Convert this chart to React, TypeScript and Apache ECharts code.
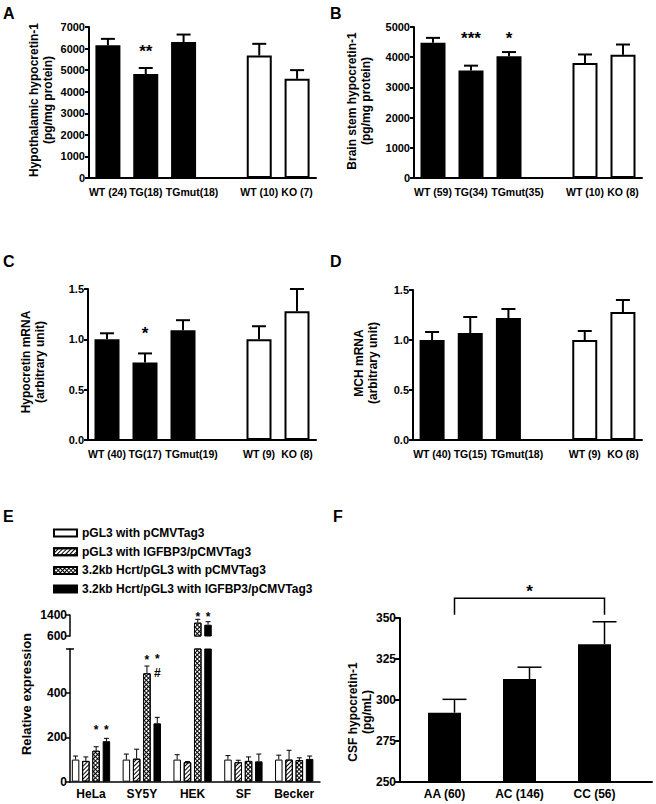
import React, { useEffect, useRef } from 'react';
import * as echarts from 'echarts';

const FONT = '"Liberation Sans", Arial, Helvetica, sans-serif';

// ---------- Panels A-D (mouse data) ----------
const genotype = ['TG', 'TG', 'TG', '', 'KO', 'KO'];

const catsA = ['WT (24)', 'TG(18)', 'TGmut(18)', '', 'WT (10)', 'KO (7)'];
const meanA = [6150, 4820, 6300, null, 5680, 4600];
const semA = [300, 280, 350, null, 540, 400];
const sigA = ['', '**', '', '', '', ''];

const catsB = ['WT (59)', 'TG(34)', 'TGmut(35)', '', 'WT (10)', 'KO (8)'];
const meanB = [4480, 3560, 4030, null, 3810, 4080];
const semB = [160, 160, 140, null, 280, 340];
const sigB = ['', '***', '*', '', '', ''];

const catsC = ['WT (40)', 'TG(17)', 'TGmut(19)', '', 'WT (9)', 'KO (8)'];
const meanC = [1.0, 0.77, 1.09, null, 1.0, 1.28];
const semC = [0.06, 0.09, 0.1, null, 0.13, 0.22];
const sigC = ['', '*', '', '', '', ''];

const catsD = ['WT (40)', 'TG(15)', 'TGmut(18)', '', 'WT (9)', 'KO (8)'];
const meanD = [1.0, 1.07, 1.22, null, 1.0, 1.28];
const semD = [0.08, 0.16, 0.09, null, 0.09, 0.12];
const sigD = ['', '', '', '', '', ''];

const yTicksA = [0, 7000, 1000];
const yTicksB = [0, 5000, 1000];
const yTicksCD = [0, 1.5, 0.5];

// ---------- Panel E (cell lines) ----------
const cellLines = ['HeLa', 'SY5Y', 'HEK', 'SF', 'Becker'];
const eNames = [
  'pGL3 with pCMVTag3',
  'pGL3 with IGFBP3/pCMVTag3',
  '3.2kb Hcrt/pGL3 with pCMVTag3',
  '3.2kb Hcrt/pGL3 with IGFBP3/pCMVTag3',
];
const eMean1 = [100, 100, 100, 100, 100];
const eSem1 = [16, 25, 22, 18, 20];
const eMean2 = [94, 104, 88, 88, 100];
const eSem2 = [18, 43, 3, 9, 42];
const eMean3 = [140, 490, 1107, 94, 98];
const eSem3 = [18, 33, 129, 18, 10];
const eMean4 = [183, 264, 1030, 92, 103];
const eSem4 = [13, 27, 115, 33, 13];
const eSig3 = ['*', '*', '*', '', ''];
const eSig4 = ['*', '*\n#', '*', '', ''];
const eSig3Level = [247, 562, 1440, 0, 0];
const eSig4Level = [247, 538, 1440, 0, 0];
const eLowerTicks = [0, 600, 200];
const eUpperTicks = [600, 1400, 800];

// ---------- Panel F (human CSF) ----------
const fCats = ['AA (60)', 'AC (146)', 'CC (56)'];
const fMean = [292.3, 312.8, 334.0];
const fSem = [8.1, 7.2, 13.7];
const fTicks = [250, 350, 25];
const fBracket = { from: 0, to: 2, low: 352, high: 362, star: 368.3, text: '*' };

const bold = (size: number) => ({ fontFamily: FONT, fontWeight: 'bold' as const, fontSize: size, color: '#000' });

function errSeries(xi: number, yi: number, data: any[], offset: number, cap: number, lw: number) {
  return {
    type: 'custom', xAxisIndex: xi, yAxisIndex: yi, clip: false, silent: true, z: 5,
    encode: { x: 0, y: 1 },
    data,
    renderItem: (params: any, api: any) => {
      const c = api.value(0), m = api.value(1), s = api.value(2);
      const b = api.coord([c, m]);
      const t = api.coord([c, m + s]);
      const x = b[0] + offset;
      const st = { stroke: '#000', lineWidth: lw };
      return {
        type: 'group',
        children: [
          { type: 'line', shape: { x1: x, y1: b[1], x2: x, y2: t[1] }, style: st },
          { type: 'line', shape: { x1: x - cap / 2, y1: t[1], x2: x + cap / 2, y2: t[1] }, style: st },
        ],
      };
    },
  };
}

function starSeries(xi: number, yi: number, items: { c: number; level: number; t: string }[], offset: number, size: number, dy: number, lh?: number) {
  return {
    type: 'custom', xAxisIndex: xi, yAxisIndex: yi, clip: false, silent: true, z: 6,
    encode: { x: 0, y: 1 },
    data: items.map((d) => [d.c, d.level]),
    renderItem: (params: any, api: any) => {
      const p = api.coord([api.value(0), api.value(1)]);
      return {
        type: 'text', x: p[0] + offset, y: p[1] + dy,
        style: { text: items[params.dataIndex].t, fill: '#000', font: `bold ${size}px ${FONT}`, align: 'center', verticalAlign: 'middle', lineHeight: lh || size },
      };
    },
  };
}

export default function App() {
  const ref = useRef<HTMLDivElement>(null);
  useEffect(() => {
    if (!ref.current) return;
    const chart = echarts.init(ref.current, null, { renderer: 'svg' });

    const grids: any[] = [];
    const xAxes: any[] = [];
    const yAxes: any[] = [];
    const series: any[] = [];
    const graphic: any[] = [];

    // ---- A-D ----
    const panels = [
      { cats: catsA, mean: meanA, sem: semA, sig: sigA, ticks: yTicksA, dec: 0, star: 6065, g: { left: 89, top: 27, width: 227, height: 151 } },
      { cats: catsB, mean: meanB, sem: semB, sig: sigB, ticks: yTicksB, dec: 0, star: 4745, g: { left: 414, top: 27, width: 228, height: 151 } },
      { cats: catsC, mean: meanC, sem: semC, sig: sigC, ticks: yTicksCD, dec: 1, star: 1.095, g: { left: 88, top: 289, width: 228, height: 151 } },
      { cats: catsD, mean: meanD, sem: semD, sig: sigD, ticks: yTicksCD, dec: 1, star: 1.1, g: { left: 413, top: 290, width: 229, height: 150 } },
    ];
    panels.forEach((p, i) => {
      grids.push(p.g);
      xAxes.push({
        type: 'category', gridIndex: i, data: p.cats,
        axisLine: { lineStyle: { color: '#000', width: 2 } },
        axisTick: { show: false },
        axisLabel: {
          ...bold(10.5), interval: 0, margin: 8,
          formatter: (v: string) => (v.indexOf('TGmut') === 0 ? `{s|${v}}` : v),
          rich: { s: { ...bold(10.5), padding: [0, 0, 0, 17] } },
        },
      });
      yAxes.push({
        type: 'value', gridIndex: i, min: p.ticks[0], max: p.ticks[1], interval: p.ticks[2],
        axisLine: { show: true, lineStyle: { color: '#000', width: 2 } },
        axisTick: { show: true, length: 4, lineStyle: { color: '#000', width: 2 } },
        splitLine: { show: false },
        axisLabel: { ...bold(11), margin: 4, formatter: (v: number) => v.toFixed(p.dec) },
      });
      series.push({
        type: 'bar', xAxisIndex: i, yAxisIndex: i, barWidth: 25,
        data: p.mean.map((v, k) =>
          v == null ? '-' : { value: v, itemStyle: { color: genotype[k] === 'TG' ? '#000' : '#fff', borderColor: '#000', borderWidth: 2 } }
        ),
      });
      const ed = p.mean.map((v, k) => (v == null ? null : [k, v, p.sem[k]])).filter(Boolean);
      series.push(errSeries(i, i, ed, 0, 14, 2));
      const st = p.sig.map((t, k) => ({ c: k, level: p.star, t })).filter((d) => d.t);
      if (st.length) series.push(starSeries(i, i, st, 0, 17, 4));
    });

    // ---- E ----
    const eMeans = [eMean1, eMean2, eMean3, eMean4];
    const eSems = [eSem1, eSem2, eSem3, eSem4];
    const eItem = [
      { color: '#fff', borderColor: '#000', borderWidth: 1 },
      { color: '#fff', borderColor: '#000', borderWidth: 1, decal: { symbol: 'rect', symbolSize: 1, color: '#000', dashArrayX: [1, 0], dashArrayY: [1, 2], rotation: -Math.PI / 4 } },
      { color: '#000', borderColor: '#000', borderWidth: 1, decal: { symbol: 'rect', symbolSize: 1, color: '#fff', dashArrayX: [[2, 1]], dashArrayY: [2, 1], rotation: Math.PI / 4 } },
      { color: '#000', borderColor: '#000', borderWidth: 1 },
    ];
    const gEL = grids.length; grids.push({ left: 65.6, top: 649, width: 254, height: 132.7 });
    const gELa = grids.length; grids.push({ left: 70, top: 649, width: 250, height: 132.7 });
    const gEU = grids.length; grids.push({ left: 65.6, top: 615, width: 254, height: 21 });
    const gEUa = grids.length; grids.push({ left: 70, top: 615, width: 250, height: 21 });

    xAxes[gEL] = { type: 'category', gridIndex: gEL, data: cellLines, axisLine: { show: false }, axisTick: { show: false }, axisLabel: { ...bold(12), interval: 0, margin: 6 } };
    yAxes[gEL] = { type: 'value', gridIndex: gEL, min: eLowerTicks[0], max: eLowerTicks[1], show: false };
    xAxes[gELa] = { type: 'value', gridIndex: gELa, min: 0, max: 1, axisLine: { show: true, lineStyle: { color: '#000', width: 1.5 } }, axisTick: { show: false }, axisLabel: { show: false }, splitLine: { show: false } };
    yAxes[gELa] = {
      type: 'value', gridIndex: gELa, min: eLowerTicks[0], max: eLowerTicks[1], interval: eLowerTicks[2],
      axisLine: { show: true, lineStyle: { color: '#000', width: 1.5 } },
      axisTick: { show: true, length: 4, lineStyle: { color: '#000', width: 1.5 } },
      splitLine: { show: false },
      axisLabel: { ...bold(12), margin: 3, formatter: (v: number) => (v === eLowerTicks[1] ? '' : String(v)) },
    };
    xAxes[gEU] = { type: 'category', gridIndex: gEU, data: cellLines, show: false };
    yAxes[gEU] = { type: 'value', gridIndex: gEU, min: eUpperTicks[0], max: eUpperTicks[1], show: false };
    xAxes[gEUa] = { type: 'value', gridIndex: gEUa, min: 0, max: 1, show: false };
    yAxes[gEUa] = {
      type: 'value', gridIndex: gEUa, min: eUpperTicks[0], max: eUpperTicks[1], interval: eUpperTicks[2],
      axisLine: { show: true, lineStyle: { color: '#000', width: 1.5 } },
      axisTick: { show: true, length: 4, lineStyle: { color: '#000', width: 1.5 } },
      splitLine: { show: false },
      axisLabel: { ...bold(12), margin: 3, formatter: (v: number) => String(v) },
    };

    const step = 10.3;
    eNames.forEach((name, k) => {
      const off = (k - 1.5) * step;
      series.push({
        type: 'bar', name, xAxisIndex: gEL, yAxisIndex: gEL, barWidth: 7.5, barGap: '37%',
        itemStyle: eItem[k], data: eMeans[k],
      });
      series.push({
        type: 'bar', name, xAxisIndex: gEU, yAxisIndex: gEU, barWidth: 7.5, barGap: '37%',
        itemStyle: eItem[k], data: eMeans[k].map((v) => (v > eLowerTicks[1] ? v : '-')),
      });
      const lo = eMeans[k].map((v, c) => [c, v, eSems[k][c]]).filter((d) => d[1] <= eLowerTicks[1]);
      const hi = eMeans[k].map((v, c) => [c, v, eSems[k][c]]).filter((d) => d[1] > eLowerTicks[1]);
      series.push(errSeries(gEL, gEL, lo, off, 5, 1));
      series.push(errSeries(gEU, gEU, hi, off, 5, 1));
    });
    const starLists = [
      { sig: eSig3, off: 0.5 * step, lv: eSig3Level },
      { sig: eSig4, off: 1.5 * step, lv: eSig4Level },
    ];
    starLists.forEach((s) => {
      const items = s.sig.map((t, c) => ({ c, level: s.lv[c], t })).filter((d) => d.t);
      const lo = items.filter((d) => d.level <= eLowerTicks[1]);
      const hi = items.filter((d) => d.level > eLowerTicks[1]);
      if (lo.length) series.push(starSeries(gEL, gEL, lo, s.off, 12, 3, 14));
      if (hi.length) series.push(starSeries(gEU, gEU, hi, s.off, 12, 3, 14));
    });

    // ---- F ----
    const gF = grids.length; grids.push({ left: 407, top: 618, width: 225, height: 164 });
    const gFa = grids.length; grids.push({ left: 400, top: 618, width: 252, height: 164 });
    xAxes[gF] = { type: 'category', gridIndex: gF, data: fCats, axisLine: { show: false }, axisTick: { show: false }, axisLabel: { ...bold(12), interval: 0, margin: 6 } };
    yAxes[gF] = { type: 'value', gridIndex: gF, min: fTicks[0], max: fTicks[1], show: false };
    xAxes[gFa] = { type: 'value', gridIndex: gFa, min: 0, max: 1, axisLine: { show: true, lineStyle: { color: '#000', width: 2 } }, axisTick: { show: false }, axisLabel: { show: false }, splitLine: { show: false } };
    yAxes[gFa] = {
      type: 'value', gridIndex: gFa, min: fTicks[0], max: fTicks[1], interval: fTicks[2],
      axisLine: { show: true, lineStyle: { color: '#000', width: 2 } },
      axisTick: { show: true, length: 5, lineStyle: { color: '#000', width: 2 } },
      splitLine: { show: false },
      axisLabel: { ...bold(12), margin: 4 },
    };
    series.push({ type: 'bar', xAxisIndex: gF, yAxisIndex: gF, barWidth: 33, itemStyle: { color: '#000' }, data: fMean });
    series.push(errSeries(gF, gF, fMean.map((v, c) => [c, v, fSem[c]]), 10, 24, 1.5));
    series.push({
      type: 'custom', xAxisIndex: gF, yAxisIndex: gF, clip: false, silent: true, z: 6,
      encode: { x: 0, y: 2 },
      data: [[fBracket.from, fBracket.to, fBracket.low, fBracket.high, fBracket.star]],
      renderItem: (params: any, api: any) => {
        const a = api.coord([api.value(0), api.value(2)]);
        const b = api.coord([api.value(1), api.value(3)]);
        const s = api.coord([(api.value(0) + api.value(1)) / 2, api.value(4)]);
        const xa = a[0] + 10, xb = b[0] + 10;
        return {
          type: 'group',
          children: [
            { type: 'polyline', shape: { points: [[xa, a[1]], [xa, b[1]], [xb, b[1]], [xb, a[1]]] }, style: { stroke: '#000', lineWidth: 1.5, fill: 'none' } },
            { type: 'text', x: (xa + xb) / 2, y: s[1] + 4, style: { text: fBracket.text, fill: '#000', font: `bold 17px ${FONT}`, align: 'center', verticalAlign: 'middle' } },
          ],
        };
      },
    });

    // ---- Titles / letters ----
    const letter = (t: string, x: number, y: number) => ({ type: 'text', x, y, style: { text: t, fill: '#000', font: `bold 16px ${FONT}`, align: 'left', verticalAlign: 'top' } });
    graphic.push(letter('A', 3, 5), letter('B', 330, 5), letter('C', 3, 253), letter('D', 330, 253), letter('E', 3, 508), letter('F', 333, 508));
    const yName = (t: string, x: number, y: number, size = 12) => ({
      type: 'text', x, y, rotation: Math.PI / 2,
      style: { text: t, fill: '#000', font: `bold ${size}px ${FONT}`, align: 'center', verticalAlign: 'middle', lineHeight: 14 },
    });
    graphic.push(
      yName('Hypothalamic hypocretin-1\n(pg/mg protein)', 40.5, 100),
      yName('Brain stem hypocretin-1\n(pg/mg protein)', 359, 101),
      yName('Hypocretin mRNA\n(arbitrary unit)', 33, 362),
      yName('MCH mRNA\n(arbitrary unit)', 366, 363),
      yName('Relative expression', 26, 694, 13),
      yName('CSF hypocretin-1\n(pg/mL)', 359.5, 712),
      { type: 'line', shape: { x1: 70, y1: 649, x2: 74, y2: 649 }, style: { stroke: '#000', lineWidth: 1.5 } },
    );

    chart.setOption({
      animation: false,
      backgroundColor: '#fff',
      textStyle: { fontFamily: FONT, fontWeight: 'bold', color: '#000' },
      grid: grids,
      xAxis: xAxes,
      yAxis: yAxes,
      series,
      legend: {
        data: eNames, orient: 'vertical', left: 53, top: 527, padding: 0, icon: 'rect',
        itemWidth: 23, itemHeight: 7, itemGap: 6.7, selectedMode: false,
        textStyle: { ...bold(12) },
      },
      graphic,
    });
    return () => chart.dispose();
  }, []);
  return <div ref={ref} style={{ position: 'fixed', left: 0, top: 0, width: 656, height: 804, background: '#fff' }} />;
}
